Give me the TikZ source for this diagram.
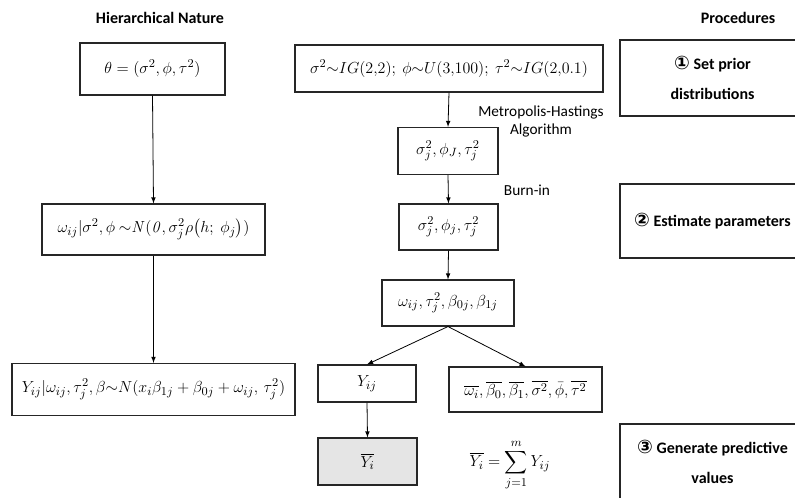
\documentclass[tikz,border=0pt]{standalone}
\usepackage[no-math]{fontspec}
\setmainfont{Carlito}
\newfontfamily\circfont{DejaVu Sans}
\usepackage{amsmath}
\usetikzlibrary{shapes}
\usetikzlibrary{arrows}
\usetikzlibrary{positioning}
\newcommand{\pxu}{0.75pt}
\newcommand{\circno}[1]{{\circfont\fontsize{14}{14}\selectfont #1}}
\begin{document}
\begin{tikzpicture}[x=0.75pt, y=-0.75pt,
        box/.style={draw=black!85, line width=0.8pt, inner sep=0pt, align=center, font=\fontsize{12.5}{15}\selectfont},
        stepbox/.style={draw=black!85, line width=0.8pt, inner sep=0pt, align=center, minimum width=185*\pxu, font=\fontsize{12}{22.5}\selectfont\bfseries},
        head/.style={font=\fontsize{12}{14}\selectfont\bfseries},
        lbl/.style={font=\fontsize{11.5}{13.5}\selectfont, align=center},
        flow/.style={-latex, line width=0.6pt}]
        \useasboundingbox (0,0) rectangle (795,498);
        \clip (0,0) rectangle (795,498);
        \node (hier) [head] at (160,18) {Hierarchical Nature};
        \node (proc) [head] at (738,18) {Procedures};
        \node (theta) [box, minimum width=145*\pxu, minimum height=52*\pxu] at (152.5,69) {$\theta=(\sigma^2,\phi,\tau^2)$};
        \node (omegaL) [box, minimum width=223*\pxu, minimum height=51*\pxu] at (153.5,229.5) {$\omega_{ij}|\sigma^2,\phi\ {\sim}\mathit{N(0,}\,\sigma_j^2\rho\big(h;\ \phi_j\big))$};
        \node (yL) [box, minimum width=283*\pxu, minimum height=52*\pxu] at (153.5,389.5) {$Y_{ij}|\omega_{ij},\tau_j^2,\beta{\sim}N(x_i\beta_{1j}+\beta_{0j}+\omega_{ij},\,\tau_j^2)$};
        \draw [flow] (theta.south) -- (omegaL.north);
        \draw [flow] (omegaL.south) -- (yL.north);
        \node (prior) [box, minimum width=308*\pxu, minimum height=47*\pxu] at (449,68.5) {$\sigma^2{\sim}IG(2{,}2);\ \phi{\sim}U(3{,}100);\ \tau^2{\sim}IG(2{,}0.1)$};
        \node (sigJ) [box, minimum width=100*\pxu, minimum height=47*\pxu] at (448,151) {$\sigma_j^2,\phi_J,\tau_j^2$};
        \node (sigj) [box, minimum width=99*\pxu, minimum height=46*\pxu] at (448.5,227) {$\sigma_j^2,\phi_j,\tau_j^2$};
        \node (omegaM) [box, minimum width=132*\pxu, minimum height=46*\pxu] at (448,303) {$\omega_{ij},\tau_j^2,\beta_{0j},\beta_{1j}$};
        \node (yM) [box, minimum width=98*\pxu, minimum height=37*\pxu] at (367,383.5) {$Y_{ij}$};
        \node (ybar) [box, fill=black!10, minimum width=99*\pxu, minimum height=47*\pxu] at (367.5,461.5) {$\overline{Y_i}$};
        \node (bars) [box, minimum width=153*\pxu, minimum height=45*\pxu] at (525.5,389.5) {$\overline{\omega_i},\overline{\beta_0},\overline{\beta_1},\overline{\sigma^2},\bar{\phi},\overline{\tau^2}$};
        \node (sum) [font=\fontsize{12.5}{15}\selectfont] at (510,465) {$\overline{Y_i}=\displaystyle\sum_{j=1}^{m}Y_{ij}$};
        \node (mh) [lbl] at (541,121) {Metropolis-Hastings\\Algorithm};
        \node (burn) [lbl] at (527,190) {Burn-in};
        \draw [flow] (prior.south) -- (sigJ.north);
        \draw [flow] (sigJ.south) -- (sigj.north);
        \draw [flow] (sigj.south) -- (omegaM.north);
        \draw [flow] (omegaM.south) -- (yM.north);
        \draw [flow] (omegaM.south) -- (bars.north);
        \draw [flow] (yM.south) -- (ybar.north);
        \node (step1) [stepbox, minimum height=76*\pxu] at (712.5,78) {\circno{①} Set prior\\distributions};
        \node (step2) [stepbox, minimum height=74*\pxu] at (712.5,221) {\circno{②} Estimate parameters};
        \node (step3) [stepbox, minimum height=76*\pxu] at (712.5,462) {\circno{③} Generate predictive\\values};
    \end{tikzpicture}
\end{document}
